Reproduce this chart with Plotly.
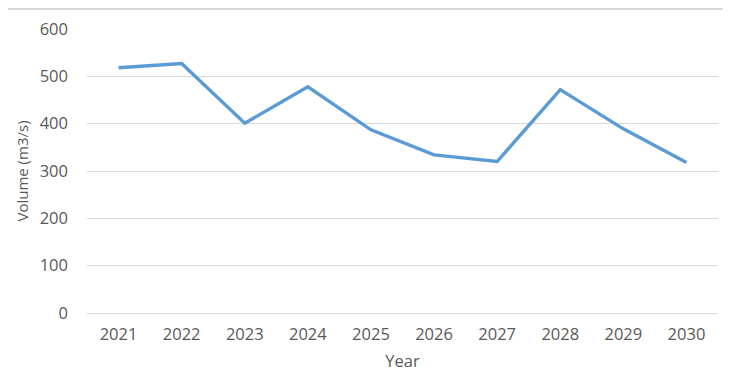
import plotly.graph_objects as go

years = ["2021", "2022", "2023", "2024", "2025", "2026", "2027", "2028", "2029", "2030"]
volume = [518, 527, 401, 478, 387, 334, 320, 472, 389, 318]
y_ticks = [0, 100, 200, 300, 400, 500, 600]

FONT = "Open Sans"
GRAY = "#595959"

fig = go.Figure()
fig.add_trace(go.Scatter(
    x=years, y=volume, mode="lines",
    line=dict(color="#5B9BD5", width=3.4),
    showlegend=False,
))

fig.update_layout(
    width=726, height=365,
    margin=dict(l=79, r=16, t=21, b=60, pad=0, autoexpand=False),
    paper_bgcolor="white", plot_bgcolor="white",
    font=dict(family=FONT, size=16, color=GRAY),
    xaxis=dict(
        type="category", range=[-0.5, 9.5], automargin=False,
        showgrid=False, showline=False, zeroline=False,
        ticks="", ticklabelstandoff=9,
        tickfont=dict(family=FONT, size=16.5, color=GRAY),
        title=dict(text="Year", font=dict(family=FONT, size=16.5, color=GRAY), standoff=11),
    ),
    yaxis=dict(
        range=[0, 600], tickvals=y_ticks, automargin=False,
        showgrid=True, gridcolor="#d9d9d9", gridwidth=1,
        zeroline=True, zerolinecolor="#d9d9d9", zerolinewidth=1,
        showline=False, ticks="", ticklabelstandoff=18,
        tickfont=dict(family=FONT, size=16.5, color=GRAY),
        title=dict(text="Volume (m3/s)", font=dict(family=FONT, size=15, color=GRAY), standoff=7),
    ),
    shapes=[dict(
        type="line", xref="paper", yref="paper",
        x0=-0.125, x1=1.008, y0=1.0704, y1=1.0704,
        line=dict(color="#d9d9d9", width=2),
    )],
)

fig.write_html("out.html")
